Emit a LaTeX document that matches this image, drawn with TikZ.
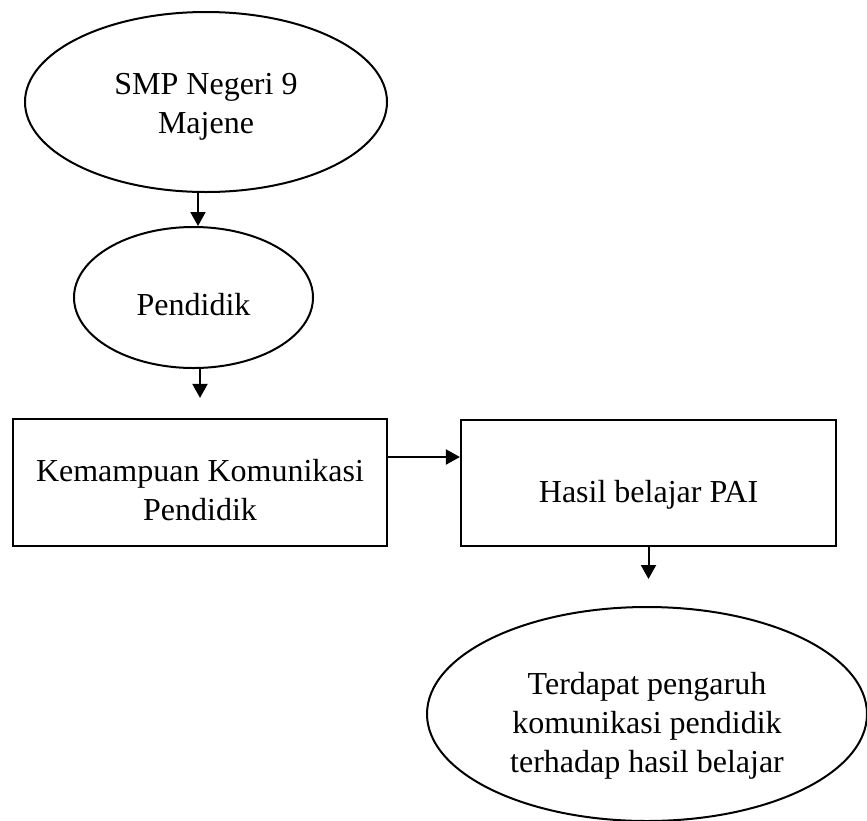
\documentclass[tikz,border=0pt]{standalone}
\usepackage{fontspec}
\setmainfont{Liberation Serif}
\usetikzlibrary{arrows.meta, shapes.geometric}

\tikzset{
  oval/.style = {draw, ellipse, line width=1pt, inner sep=0pt},
  box/.style = {draw, rectangle, line width=1.1pt, inner sep=0pt},
  txt/.style = {align=center, inner sep=0pt},
  arr/.style = {-{Triangle[length=7pt, width=7.5pt]}, line width=1pt}
}

\begin{document}
\begin{tikzpicture}[x=0.5pt, y=-0.5pt, font=\fontsize{16}{19.5}\selectfont]
\useasboundingbox (0,0) rectangle (867,820);
% alur
\node [oval, minimum width=181pt, minimum height=90pt,
  label={[txt, yshift=-2.5pt]center:SMP Negeri 9\\Majene}] (sekolah) at (206,102) {};
\node [oval, minimum width=119.5pt, minimum height=70.5pt,
  label={[txt, yshift=-3.5pt]center:Pendidik}] (pendidik) at (193.5,297.5) {};
\node [box, minimum width=187pt, minimum height=63.5pt,
  label={[txt, yshift=-4pt]center:Kemampuan Komunikasi\\Pendidik}] (kemampuan) at (200,482.5) {};
\node [box, minimum width=187.5pt, minimum height=63pt,
  label={[txt, yshift=-6pt]center:Hasil belajar PAI}] (hasil) at (648.5,483) {};
\node [oval, minimum width=220pt, minimum height=107pt,
  label={[txt, yshift=-6pt]center:Terdapat pengaruh\\komunikasi pendidik\\terhadap hasil belajar}] (pengaruh) at (647,714) {};
% panah
\draw [arr] ([xshift=-4pt]sekolah.south) -- ([xshift=-4pt]sekolah.south |- pendidik.north);
\draw [arr] (pendidik.south -| kemampuan.north) -- ([yshift=10pt]kemampuan.north);
\draw [arr] ([yshift=12.75pt]kemampuan.east) -- ([yshift=12.75pt]kemampuan.east -| hasil.west);
\draw [arr] (hasil.south) -- ([yshift=13.5pt]hasil.south |- pengaruh.north);
\end{tikzpicture}
\end{document}
